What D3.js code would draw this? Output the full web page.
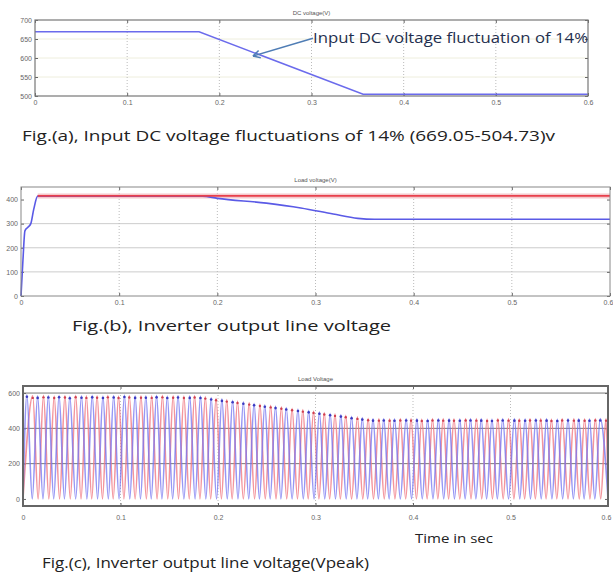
<!DOCTYPE html>
<html>
<head>
<meta charset="utf-8">
<script src="https://cdn.jsdelivr.net/npm/d3@7"></script>
<style>
  body { margin: 0; background: #fff; }
  .tick text { fill: #666; font-family: "Liberation Sans", sans-serif; font-size: 7px; }
  .caption { font-family: "Open Sans", sans-serif; fill: #222; }
</style>
</head>
<body>
<div id="chart"></div>
<script>
// ---- data ----
var timeTicks = [0, 0.1, 0.2, 0.3, 0.4, 0.5, 0.6];

// (a) input DC voltage
var dcTime = [0, 0.178, 0.356, 0.6];
var dcVolt = [669.05, 669.05, 504.73, 504.73];
var dcTicks = [500, 550, 600, 650, 700];

// (b) load voltage, reference (red) and measured (blue)
var refTime = [0.017, 0.6];
var refVolt = [415, 415];
var loadTime = [0, 0.002, 0.004, 0.007, 0.010, 0.013, 0.017, 0.185, 0.20, 0.25, 0.285, 0.318, 0.343, 0.36, 0.6];
var loadVolt = [0, 150, 270, 285, 300, 360, 414, 414, 405, 385, 365, 340, 322, 318, 318];
var loadTicks = [0, 100, 200, 300, 400];

// (c) load voltage waveforms, one peak per cycle
var bluePeakT = [0.004, 0.015, 0.026, 0.037, 0.048, 0.060, 0.071, 0.082, 0.093, 0.104, 0.115, 0.126, 0.137, 0.148,
  0.159, 0.171, 0.182, 0.193, 0.204, 0.215, 0.226, 0.237, 0.248, 0.259, 0.270, 0.282, 0.293, 0.304, 0.315, 0.326,
  0.337, 0.348, 0.359, 0.370, 0.381, 0.393, 0.404, 0.415, 0.426, 0.437, 0.448, 0.459, 0.470, 0.481, 0.492, 0.504,
  0.515, 0.526, 0.537, 0.548, 0.559, 0.570, 0.581, 0.592];
var bluePeakV = [590, 584, 586, 588, 582, 585, 587, 583, 586, 589, 584, 585, 587, 583, 586, 584, 583, 575, 567, 559,
  551, 542, 534, 526, 518, 510, 502, 494, 486, 478, 469, 461, 455, 456, 454, 456, 455, 453, 456, 455, 454, 456, 455,
  453, 456, 455, 454, 456, 455, 453, 456, 455, 454, 456];
var redPeakT = [0.010, 0.021, 0.032, 0.043, 0.054, 0.065, 0.076, 0.087, 0.098, 0.109, 0.121, 0.132, 0.143, 0.154,
  0.165, 0.176, 0.187, 0.198, 0.209, 0.220, 0.232, 0.243, 0.254, 0.265, 0.276, 0.287, 0.298, 0.309, 0.320, 0.331,
  0.343, 0.354, 0.365, 0.376, 0.387, 0.398, 0.409, 0.420, 0.431, 0.442, 0.454, 0.465, 0.476, 0.487, 0.498, 0.509,
  0.520, 0.531, 0.542, 0.553, 0.565, 0.576, 0.587, 0.598];
var redPeakV = [584, 587, 583, 586, 588, 584, 585, 587, 583, 586, 585, 584, 587, 585, 583, 586, 580, 571, 563, 555,
  546, 538, 530, 522, 514, 506, 498, 490, 482, 474, 465, 457, 455, 454, 456, 455, 453, 456, 455, 454, 456, 455, 453,
  456, 455, 454, 456, 455, 453, 456, 455, 454, 456, 455];
var waveTicks = [0, 200, 400, 600];

var W = 613, H = 574;

var svg = d3.select("#chart").append("svg")
    .attr("width", W)
    .attr("height", H)
    .style("background", "#fff");

// one MATLAB style axes box
function panel(opt) {
    var x = d3.scaleLinear().domain([0, 0.6]).range([opt.left, opt.right]);
    var y = d3.scaleLinear().domain(opt.yDomain).range([opt.bottom, opt.top]);
    var g = svg.append("g");

    // grid
    g.selectAll(".hg").data(opt.yTicks.slice(1, -1).concat(opt.yTicks.length < 5 ? [opt.yTicks[opt.yTicks.length - 1]] : []))
        .enter().append("line")
        .attr("x1", opt.left).attr("x2", opt.right)
        .attr("y1", d => y(d)).attr("y2", d => y(d))
        .attr("stroke", opt.hGrid).attr("stroke-width", 1);
    g.selectAll(".vg").data(timeTicks.slice(1, -1))
        .enter().append("line")
        .attr("x1", d => x(d)).attr("x2", d => x(d))
        .attr("y1", opt.top).attr("y2", opt.bottom)
        .attr("stroke", "#bbb").attr("stroke-dasharray", "1,2");

    var fmt = d => d === 0 ? "0" : d3.format(".1f")(d);
    g.append("g").attr("transform", "translate(0," + opt.bottom + ")")
        .call(d3.axisBottom(x).tickValues(timeTicks).tickFormat(fmt).tickSizeInner(-3).tickSizeOuter(0).tickPadding(opt.xPad))
        .call(a => a.select(".domain").remove())
        .call(a => a.selectAll("line").attr("stroke", "#666"))
        .call(a => {
            // keep the last label inside the page when the box reaches the edge
            if (W - opt.right < 8) a.selectAll(".tick text").filter(d => d === 0.6).attr("text-anchor", "end").attr("dx", "0.4em");
        });
    g.append("g").attr("transform", "translate(0," + opt.top + ")")
        .call(d3.axisTop(x).tickValues(timeTicks).tickFormat("").tickSizeInner(-3).tickSizeOuter(0))
        .call(a => a.select(".domain").remove())
        .call(a => a.selectAll("line").attr("stroke", "#666"));
    g.append("g").attr("transform", "translate(" + opt.left + ",0)")
        .call(d3.axisLeft(y).tickValues(opt.yTicks).tickSizeInner(-3).tickSizeOuter(0).tickPadding(3))
        .call(a => a.select(".domain").remove())
        .call(a => a.selectAll("line").attr("stroke", "#666"));
    g.append("g").attr("transform", "translate(" + opt.right + ",0)")
        .call(d3.axisRight(y).tickValues(opt.yTicks).tickFormat("").tickSizeInner(-3).tickSizeOuter(0))
        .call(a => a.select(".domain").remove())
        .call(a => a.selectAll("line").attr("stroke", "#666"));

    g.append("text")
        .attr("x", (opt.left + opt.right) / 2).attr("y", opt.top - 5)
        .attr("text-anchor", "middle")
        .style("font-family", "Liberation Sans, sans-serif")
        .style("font-size", "6px").attr("fill", "#555")
        .text(opt.title);

    var plot = g.append("g");
    // box drawn last
    g.append("rect")
        .attr("x", opt.left).attr("y", opt.top)
        .attr("width", opt.right - opt.left).attr("height", opt.bottom - opt.top)
        .attr("fill", "none").attr("stroke", opt.boxColor).attr("stroke-width", opt.boxWidth);
    return { x: x, y: y, g: plot };
}

// ---- (a) ----
var pa = panel({ left: 35, right: 588, top: 20, bottom: 96, yDomain: [500, 700], yTicks: dcTicks,
    hGrid: "#eeeedd", xPad: 4, title: "DC voltage(V)", boxColor: "#777", boxWidth: 1.2 });
pa.g.append("path")
    .datum(dcTime.map((t, i) => [t, dcVolt[i]]))
    .attr("fill", "none").attr("stroke", "#6b6bec").attr("stroke-width", 1.5)
    .attr("d", d3.line().x(d => pa.x(d[0])).y(d => pa.y(d[1])));

// annotation with arrow
var noteT = 0.3016, noteV = 652, tipT = 0.2365, tipV = 605;
var ax0 = pa.x(noteT), ay0 = pa.y(noteV), ax1 = pa.x(tipT), ay1 = pa.y(tipV);
var ang = Math.atan2(ay1 - ay0, ax1 - ax0);
svg.append("line")
    .attr("x1", ax0).attr("y1", ay0).attr("x2", ax1).attr("y2", ay1)
    .attr("stroke", "#4f7db5").attr("stroke-width", 1.5);
[-0.5, 0.5].forEach(function (da) {
    svg.append("line")
        .attr("x1", ax1).attr("y1", ay1)
        .attr("x2", ax1 - 8 * Math.cos(ang + da)).attr("y2", ay1 - 8 * Math.sin(ang + da))
        .attr("stroke", "#4f7db5").attr("stroke-width", 1.5);
});
svg.append("text")
    .attr("x", ax0).attr("y", ay0 + 5)
    .attr("textLength", 275).attr("lengthAdjust", "spacingAndGlyphs")
    .style("font-family", "Open Sans, sans-serif").style("font-size", "15px")
    .attr("fill", "#1f2f4f")
    .text("Input DC voltage fluctuation of 14%");

// ---- (b) ----
var pb = panel({ left: 21, right: 610, top: 187, bottom: 296, yDomain: [0, 452], yTicks: loadTicks,
    hGrid: "#ccc", xPad: 4, title: "Load voltage(V)", boxColor: "#888", boxWidth: 1 });
var lineB = d3.line().x(d => pb.x(d[0])).y(d => pb.y(d[1]));
pb.g.append("path")
    .datum(refTime.map((t, i) => [t, refVolt[i]]))
    .attr("fill", "none").attr("stroke", "#f4c8cc").attr("stroke-width", 5)
    .attr("d", lineB);
pb.g.append("path")
    .datum(loadTime.map((t, i) => [t, loadVolt[i]]))
    .attr("fill", "none").attr("stroke", "#5a5ae6").attr("stroke-width", 1.6)
    .attr("d", d3.line().x(d => pb.x(d[0])).y(d => pb.y(d[1])).curve(d3.curveMonotoneX));
pb.g.append("path")
    .datum(refTime.map((t, i) => [t, refVolt[i]]))
    .attr("fill", "none").attr("stroke", "#e8404c").attr("stroke-width", 1.6)
    .attr("d", lineB);

// ---- (c) ----
var pc = panel({ left: 23, right: 608, top: 386, bottom: 506, yDomain: [-40, 640], yTicks: waveTicks,
    hGrid: "#777", xPad: 9, title: "Load Voltage", boxColor: "#666", boxWidth: 2 });

// peaks joined through zero crossings between them
function wavePoints(peakT, peakV) {
    var pts = [[0, 0]];
    peakT.forEach(function (t, i) {
        pts.push([t, peakV[i]]);
        var next = i < peakT.length - 1 ? (t + peakT[i + 1]) / 2 : 0.6;
        pts.push([Math.min(next, 0.6), 0]);
    });
    return pts;
}
var lineC = d3.line().x(d => pc.x(d[0])).y(d => pc.y(d[1])).curve(d3.curveMonotoneX);
pc.g.append("path")
    .datum(wavePoints(redPeakT, redPeakV))
    .attr("fill", "none").attr("stroke", "#f07a84").attr("stroke-opacity", 0.8).attr("stroke-width", 1.6)
    .attr("d", lineC);
pc.g.append("path")
    .datum(wavePoints(bluePeakT, bluePeakV))
    .attr("fill", "none").attr("stroke", "#7474f0").attr("stroke-opacity", 0.75).attr("stroke-width", 1.6)
    .attr("d", lineC);
pc.g.selectAll(".bp").data(bluePeakT).enter().append("circle")
    .attr("cx", d => pc.x(d)).attr("cy", (d, i) => pc.y(bluePeakV[i]) + 2)
    .attr("r", 1.3).attr("fill", "#3a3ac0");
pc.g.selectAll(".rp").data(redPeakT).enter().append("circle")
    .attr("cx", d => pc.x(d)).attr("cy", (d, i) => pc.y(redPeakV[i]) + 2)
    .attr("r", 1.2).attr("fill", "#d04050");

// ---- captions ----
svg.append("text").attr("class", "caption")
    .attr("x", 22).attr("y", 141).attr("textLength", 533).attr("lengthAdjust", "spacingAndGlyphs")
    .style("font-size", "15px")
    .text("Fig.(a), Input DC voltage fluctuations of 14% (669.05-504.73)v");
svg.append("text").attr("class", "caption")
    .attr("x", 72).attr("y", 331).attr("textLength", 319).attr("lengthAdjust", "spacingAndGlyphs")
    .style("font-size", "15px")
    .text("Fig.(b), Inverter output line voltage");
svg.append("text").attr("class", "caption")
    .attr("x", 415).attr("y", 543).attr("textLength", 78).attr("lengthAdjust", "spacingAndGlyphs")
    .style("font-size", "13px")
    .text("Time in sec");
svg.append("text").attr("class", "caption")
    .attr("x", 42).attr("y", 568).attr("textLength", 327).attr("lengthAdjust", "spacingAndGlyphs")
    .style("font-size", "15px")
    .text("Fig.(c), Inverter output line voltage(Vpeak)");
</script>
</body>
</html>
